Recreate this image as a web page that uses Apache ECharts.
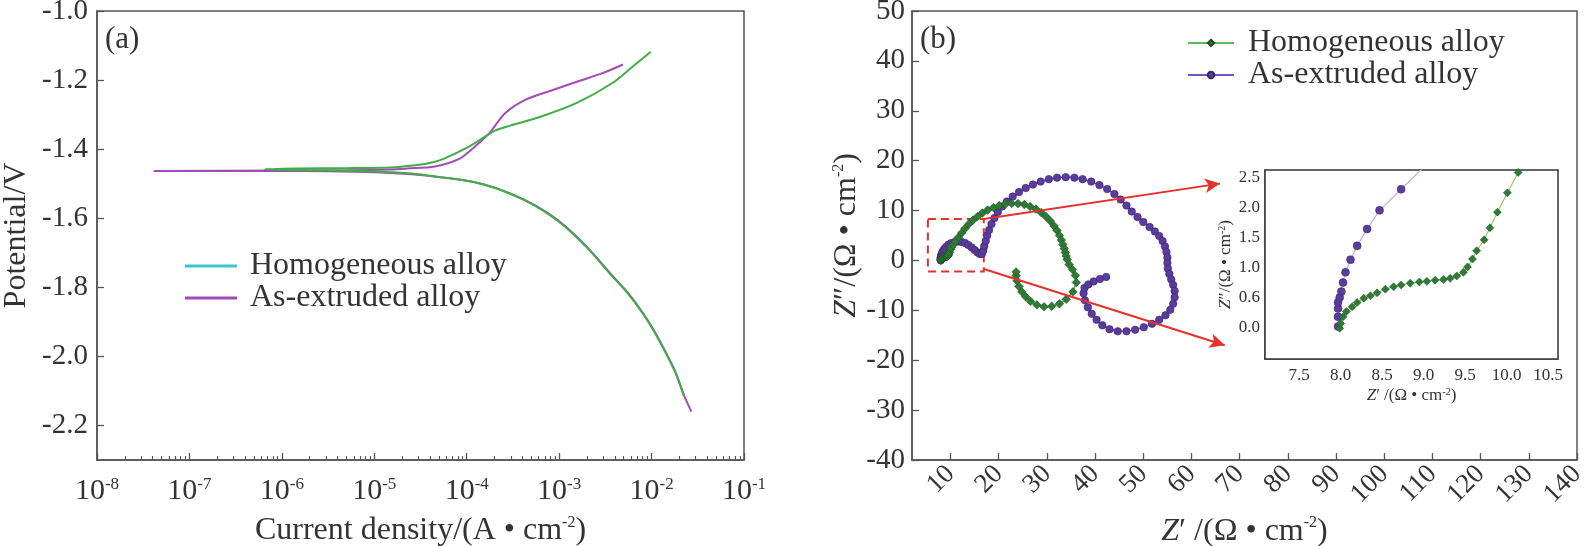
<!DOCTYPE html>
<html>
<head>
<meta charset="utf-8">
<script src="https://cdn.jsdelivr.net/npm/echarts@6/dist/echarts.min.js"></script>
<style>
  html, body { margin: 0; padding: 0; background: #fff; }
  #chart { width: 1586px; height: 546px; }
</style>
</head>
<body>
<div id="chart"></div>
<script>
// ---- data ----
// (a) polarization curves: [current density A/cm2, potential V]
var tafelHomo = [
  [2.24e-2, -2.115], [1.8e-2, -2.045], [1.35e-2, -1.978], [1.05e-2, -1.925], [8.1e-3, -1.877],
  [5.5e-3, -1.817], [3.7e-3, -1.766], [2.0e-3, -1.685], [1.05e-3, -1.615], [5.5e-4, -1.564],
  [2.95e-4, -1.529], [1.55e-4, -1.503], [8.3e-5, -1.488], [4.0e-5, -1.477], [2.3e-5, -1.470],
  [1.0e-5, -1.465], [3.5e-6, -1.462], [1.5e-6, -1.460], [6.5e-7, -1.458],
  [1.5e-6, -1.456], [5.0e-6, -1.455], [1.5e-5, -1.453], [2.3e-5, -1.449], [4.0e-5, -1.440],
  [5.6e-5, -1.428], [1.07e-4, -1.392], [2.0e-4, -1.347], [2.95e-4, -1.332], [6.3e-4, -1.306],
  [1.55e-3, -1.266], [3.7e-3, -1.210], [6.3e-3, -1.160], [9.8e-3, -1.118]
];
var tafelExtr = [
  [2.7e-2, -2.160], [2.24e-2, -2.112], [1.8e-2, -2.043], [1.35e-2, -1.976], [1.05e-2, -1.923],
  [8.1e-3, -1.875], [5.5e-3, -1.815], [3.7e-3, -1.764], [2.0e-3, -1.683], [1.05e-3, -1.613],
  [5.5e-4, -1.563], [2.95e-4, -1.528], [1.55e-4, -1.502], [8.3e-5, -1.488], [4.0e-5, -1.478],
  [2.3e-5, -1.472], [1.0e-5, -1.467], [3.0e-6, -1.464], [1.0e-6, -1.463], [4.1e-8, -1.463],
  [1.0e-6, -1.462], [5.0e-6, -1.461], [1.5e-5, -1.459], [2.3e-5, -1.456], [4.5e-5, -1.450],
  [8.3e-5, -1.428], [1.23e-4, -1.392], [1.78e-4, -1.352], [2.6e-4, -1.296], [4.4e-4, -1.256],
  [8.1e-4, -1.231], [1.55e-3, -1.205], [2.95e-3, -1.180], [4.9e-3, -1.155]
];

// (b) Nyquist plots: [Z', Z'']
var nyqHomo = [
  [8.0, 0.0], [8.03, 0.18], [8.14, 0.35], [8.28, 0.49], [8.44, 0.58], [8.64, 0.68], [8.84, 0.74],
  [9.04, 0.77], [9.24, 0.80], [9.40, 0.86], [9.53, 1.01], [9.64, 1.28], [9.80, 1.66], [10.01, 2.24],
  [10.14, 2.58], [10.5, 3.1], [11.0, 3.8], [11.6, 4.6], [12.3, 5.5], [13.0, 6.4], [13.8, 7.3],
  [14.7, 8.1], [15.6, 8.8], [16.6, 9.5], [17.7, 10.1], [18.9, 10.6], [20.1, 11.0], [21.4, 11.3],
  [22.7, 11.4], [24.0, 11.4], [25.3, 11.2], [26.5, 10.8], [27.7, 10.3], [28.8, 9.6], [29.8, 8.8],
  [30.7, 7.9], [31.5, 6.9], [32.1, 6.0], [32.6, 5.0], [33.0, 4.1], [33.3, 3.2], [33.6, 2.4],
  [33.8, 1.6], [34.0, 0.9], [34.2, 0.2], [34.6, -0.8], [35.3, -1.8], [35.9, -3.0], [36.1, -4.4],
  [35.4, -6.3], [34.0, -7.8], [32.6, -8.7], [31.0, -9.2], [29.4, -9.3], [27.9, -8.9], [26.6, -8.2],
  [25.6, -7.3], [24.8, -6.3], [24.2, -5.2], [23.8, -4.1], [23.6, -3.0], [23.6, -2.3]
];
var nyqExtr = [
  [7.97, 0.02], [7.97, 0.18], [7.97, 0.32], [7.97, 0.42], [7.99, 0.50], [8.01, 0.60], [8.03, 0.75],
  [8.06, 0.92], [8.12, 1.13], [8.20, 1.36], [8.32, 1.64], [8.47, 1.95], [8.73, 2.30], [9.1, 2.75],
  [9.6, 3.2], [10.2, 3.5], [10.9, 3.7], [11.6, 3.8], [12.3, 3.7], [13.0, 3.5], [13.7, 3.1],
  [14.4, 2.6], [15.0, 2.1], [15.6, 1.6], [16.1, 1.3], [16.5, 1.3], [16.8, 2.0], [17.0, 2.9],
  [17.3, 3.9], [17.6, 5.0], [18.0, 6.1], [18.5, 7.3], [19.1, 8.5], [19.8, 9.7], [20.7, 10.8],
  [21.7, 11.8], [22.9, 12.8], [24.2, 13.7], [25.6, 14.5], [27.1, 15.2], [28.7, 15.8], [30.4, 16.3],
  [32.1, 16.6], [33.9, 16.7], [35.7, 16.6], [37.4, 16.3], [39.2, 15.8], [40.9, 15.1], [42.5, 14.3],
  [44.0, 13.3], [45.3, 12.2], [46.5, 11.0], [47.6, 9.8], [48.8, 8.7], [50.0, 7.7], [51.3, 6.7],
  [52.4, 5.8], [53.3, 4.9], [54.0, 3.9], [54.5, 2.8], [54.8, 1.7], [55.0, 0.6], [55.0, -0.5],
  [55.1, -1.6], [55.4, -2.7], [55.8, -3.8], [56.2, -4.9], [56.5, -6.1], [56.5, -7.4], [56.2, -8.7],
  [55.6, -9.9], [54.6, -11.0], [53.3, -11.9], [51.8, -12.7], [50.1, -13.4], [48.3, -13.9],
  [46.5, -14.2], [44.7, -14.2], [43.0, -13.8], [41.5, -13.0], [40.3, -11.9], [39.3, -10.7],
  [38.5, -9.4], [37.9, -8.0], [37.6, -6.6], [37.8, -5.5], [38.6, -4.8], [39.7, -4.2], [41.0, -3.7],
  [42.3, -3.3]
];

// inset (zoom of high-frequency part)
var insetHomo = [
  [7.99, -0.01], [8.0, 0.07], [8.03, 0.18], [8.07, 0.27], [8.14, 0.35], [8.20, 0.42], [8.28, 0.49],
  [8.36, 0.53], [8.44, 0.58], [8.54, 0.64], [8.64, 0.68], [8.73, 0.71], [8.84, 0.74], [8.95, 0.76],
  [9.04, 0.77], [9.14, 0.79], [9.24, 0.80], [9.32, 0.82], [9.40, 0.86], [9.48, 0.92], [9.53, 1.01],
  [9.59, 1.14], [9.64, 1.28], [9.73, 1.46], [9.80, 1.66], [9.89, 1.92], [10.01, 2.24], [10.14, 2.58],
  [10.25, 2.85]
];
var insetExtr = [
  [7.97, 0.02], [7.97, 0.18], [7.97, 0.32], [7.97, 0.42], [7.99, 0.50], [8.01, 0.60], [8.03, 0.75],
  [8.06, 0.92], [8.12, 1.13], [8.20, 1.36], [8.32, 1.64], [8.47, 1.95], [8.73, 2.30], [9.1, 2.80]
];

// tick labels
var tafelXTicks = [1e-8, 1e-7, 1e-6, 1e-5, 1e-4, 1e-3, 1e-2, 1e-1];
var tafelYTicks = [-2.2, -2.0, -1.8, -1.6, -1.4, -1.2, -1.0];
var nyqXTicks = [10, 20, 30, 40, 50, 60, 70, 80, 90, 100, 110, 120, 130, 140];
var insetXTicks = [7.5, 8.0, 8.5, 9.0, 9.5, 10.0, 10.5];
var insetYTicks = [0, 0.5, 1.0, 1.5, 2.0, 2.5];
var insetYLabels = ['0.0', '0.6', '1.0', '1.5', '2.0', '2.5'];

// dashed zoom box [x1, y1, x2, y2] and arrows in (b) data units
var zoomBox = [5.3, -2.2, 16.9, 8.3];
var zoomArrows = [
  [[16.9, 8.3], [65.9, 15.4]],
  [[16.9, -1.7], [66.9, -17.0]]
];

// ---- styling ----
var FONT = '"Liberation Serif", "Times New Roman", serif';
var INK = '#333';
var AXIS = '#555';
var GREEN_A = '#3fae45', PURPLE_A = '#a34bb8', CYAN = '#3cc4d4';
var GREEN_M = '#2f7b36', GREEN_L = '#5cb85c', PURPLE_M = '#5a3c9c', PURPLE_L = '#7a52bf';
var RED = '#e5312c';

// minor ticks of the log axis (2..9 in each decade)
var minorTicks = [];
for (var e = -8; e < -1; e++) {
  for (var k = 2; k < 10; k++) minorTicks.push(k * Math.pow(10, e));
}

var supRich = {
  it: { fontStyle: 'italic', fontFamily: FONT, fontSize: 32, color: INK },
  sup: { fontSize: 16, fontFamily: FONT, color: INK, verticalAlign: 'top', lineHeight: 16 }
};
var smallRich = {
  it: { fontStyle: 'italic', fontFamily: FONT, fontSize: 17, color: INK },
  sup: { fontSize: 10, fontFamily: FONT, color: INK, verticalAlign: 'top', lineHeight: 10 }
};

function axisBase(grid) {
  return {
    gridIndex: grid,
    axisLine: { show: true, onZero: false, lineStyle: { color: AXIS, width: 1.5 } },
    axisTick: { show: true, inside: true, length: 7, lineStyle: { color: AXIS, width: 1.3 } },
    splitLine: { show: false },
    axisLabel: { fontFamily: FONT, color: INK, fontSize: 28 },
    nameTextStyle: { fontFamily: FONT, color: INK, fontSize: 32 }
  };
}

function merge(a, b) {
  for (var key in b) a[key] = b[key];
  return a;
}

var chart = echarts.init(document.getElementById('chart'), null, { renderer: 'canvas' });

var option = {
  backgroundColor: '#fff',
  animation: false,
  title: [
    { text: '(a)', left: 105, top: 24, padding: 0,
      textStyle: { fontFamily: FONT, fontSize: 31, fontWeight: 'normal', color: INK } },
    { text: '(b)', left: 920, top: 24, padding: 0,
      textStyle: { fontFamily: FONT, fontSize: 31, fontWeight: 'normal', color: INK } }
  ],
  legend: [
    {
      data: [
        { name: 'Homogeneous alloy', itemStyle: { color: CYAN, borderWidth: 0 } },
        { name: 'As-extruded alloy', itemStyle: { color: PURPLE_A, borderWidth: 0 } }
      ],
      icon: 'rect', itemWidth: 52, itemHeight: 3, itemGap: 0,
      orient: 'vertical', left: 185, top: 250, padding: 0,
      textStyle: { fontFamily: FONT, fontSize: 32, color: INK, padding: [0, 0, 0, 8] }
    },
    {
      data: ['Homogeneous alloy', 'As-extruded alloy'],
      itemWidth: 46, itemHeight: 8, itemGap: 0,
      orient: 'vertical', left: 1187, top: 27, padding: 0,
      textStyle: { fontFamily: FONT, fontSize: 32, color: INK, padding: [0, 0, 0, 9] }
    }
  ],
  grid: [
    { left: 97, top: 11, width: 647, height: 449, show: true, borderColor: AXIS, borderWidth: 1.5,
      outerBoundsMode: 'none' },
    { left: 912, top: 11, width: 665, height: 449, show: true, borderColor: AXIS, borderWidth: 1.5,
      outerBoundsMode: 'none' },
    { left: 1265, top: 170, width: 293, height: 189, show: true, borderColor: '#333',
      borderWidth: 1.5, backgroundColor: '#fff', z: 10, outerBoundsMode: 'none' }
  ],
  xAxis: [
    merge(axisBase(0), {
      type: 'log', logBase: 10, min: 1e-8, max: 1e-1, position: 'bottom',
      name: 'Current density/(A • cm{sup|-2})', nameLocation: 'middle', nameGap: 55,
      nameTextStyle: { fontFamily: FONT, color: INK, fontSize: 32, rich: supRich },
      axisTick: { show: true, inside: true, length: 7, customValues: tafelXTicks,
        lineStyle: { color: AXIS, width: 1.3 } },
      axisLabel: {
        customValues: tafelXTicks, margin: 16,
        formatter: function (v) { return '{b|10}{s|' + Math.round(Math.log10(v)) + '}'; },
        rich: {
          b: { fontFamily: FONT, color: INK, fontSize: 30, lineHeight: 30 },
          s: { fontFamily: FONT, color: INK, fontSize: 17, lineHeight: 17, verticalAlign: 'top' }
        }
      }
    }),
    merge(axisBase(0), {
      type: 'log', logBase: 10, min: 1e-8, max: 1e-1, position: 'bottom',
      axisLine: { show: false },
      axisLabel: { show: false },
      axisTick: { show: true, inside: true, length: 4, customValues: minorTicks,
        lineStyle: { color: AXIS, width: 1.1 } }
    }),
    merge(axisBase(1), {
      type: 'value', min: 2, max: 140,
      name: '{it|Z}′ /(Ω • cm{sup|-2})', nameLocation: 'middle', nameGap: 51,
      nameTextStyle: { fontFamily: FONT, color: INK, fontSize: 32, rich: supRich },
      axisTick: { show: true, inside: true, length: 7, customValues: nyqXTicks,
        lineStyle: { color: AXIS, width: 1.3 } },
      axisLabel: { customValues: nyqXTicks, rotate: 45, margin: 10,
        fontFamily: FONT, color: INK, fontSize: 27 }
    }),
    merge(axisBase(2), {
      type: 'value', min: 7.09, max: 10.62,
      name: '{it|Z}′ /(Ω • cm{sup|-2})', nameLocation: 'middle', nameGap: 28,
      nameTextStyle: { fontFamily: FONT, color: INK, fontSize: 17, rich: smallRich },
      axisTick: { show: true, inside: true, length: 5, customValues: insetXTicks,
        lineStyle: { color: '#333', width: 1 } },
      axisLabel: { customValues: insetXTicks, margin: 8, fontFamily: FONT, color: INK, fontSize: 17,
        formatter: function (v) { return v.toFixed(1); } }
    })
  ],
  yAxis: [
    merge(axisBase(0), {
      type: 'value', min: -2.3, max: -1.0,
      name: 'Potential/V', nameLocation: 'middle', nameGap: 64,
      axisTick: { show: true, inside: true, length: 7, customValues: tafelYTicks,
        lineStyle: { color: AXIS, width: 1.3 } },
      axisLabel: { customValues: tafelYTicks, margin: 9, fontFamily: FONT, color: INK, fontSize: 29,
        formatter: function (v) { return v.toFixed(1); } }
    }),
    merge(axisBase(1), {
      type: 'value', min: -40, max: 50, interval: 10,
      name: '{it|Z}″/(Ω • cm{sup|-2})', nameLocation: 'middle', nameGap: 48,
      nameTextStyle: { fontFamily: FONT, color: INK, fontSize: 32, rich: supRich },
      axisTick: { show: true, inside: true, length: 7, lineStyle: { color: AXIS, width: 1.3 } },
      axisLabel: { margin: 7, fontFamily: FONT, color: INK, fontSize: 29 }
    }),
    merge(axisBase(2), {
      type: 'value', min: -0.52, max: 2.62,
      name: '{it|Z}″/(Ω • cm{sup|-2})', nameLocation: 'middle', nameGap: 31,
      nameTextStyle: { fontFamily: FONT, color: INK, fontSize: 17, rich: smallRich },
      axisTick: { show: true, inside: true, length: 5, customValues: insetYTicks,
        lineStyle: { color: '#333', width: 1 } },
      axisLabel: { customValues: insetYTicks, margin: 5, fontFamily: FONT, color: INK, fontSize: 17,
        formatter: function (v) { return insetYLabels[Math.round(v / 0.5)]; } }
    })
  ],
  series: [
    // (b) main Nyquist - listed first so legend (b) takes its symbols
    {
      name: 'As-extruded alloy', type: 'line', xAxisIndex: 2, yAxisIndex: 1,
      data: nyqExtr, symbol: 'circle', symbolSize: 7.5, showAllSymbol: true,
      itemStyle: { color: PURPLE_M, borderColor: '#3d2470', borderWidth: 0.6 },
      lineStyle: { color: PURPLE_L, width: 1.6 },
      markArea: {
        silent: true,
        itemStyle: { color: 'rgba(0,0,0,0)', borderColor: RED, borderWidth: 2, borderType: [8, 5] },
        data: [[{ coord: [zoomBox[0], zoomBox[3]] }, { coord: [zoomBox[2], zoomBox[1]] }]]
      },
      markLine: {
        silent: true, symbol: ['none', 'arrow'], symbolSize: [11, 15],
        label: { show: false },
        lineStyle: { color: RED, width: 2, type: 'solid' },
        data: zoomArrows.map(function (a) { return [{ coord: a[0] }, { coord: a[1] }]; })
      }
    },
    {
      name: 'Homogeneous alloy', type: 'line', xAxisIndex: 2, yAxisIndex: 1,
      data: nyqHomo, symbol: 'diamond', symbolSize: 8.5, showAllSymbol: true,
      itemStyle: { color: GREEN_M, borderColor: '#1d4f22', borderWidth: 0.6 },
      lineStyle: { color: GREEN_L, width: 1.6 }
    },
    // (a) polarization curves
    {
      name: 'As-extruded alloy', type: 'line', xAxisIndex: 0, yAxisIndex: 0,
      data: tafelExtr, symbol: 'none', smooth: 0.3,
      lineStyle: { color: PURPLE_A, width: 2 }
    },
    {
      name: 'Homogeneous alloy', type: 'line', xAxisIndex: 0, yAxisIndex: 0,
      data: tafelHomo, symbol: 'none', smooth: 0.3,
      lineStyle: { color: GREEN_A, width: 2 }
    },
    // inset
    {
      name: 'As-extruded inset', type: 'line', xAxisIndex: 3, yAxisIndex: 2, z: 12,
      data: insetExtr, symbol: 'circle', symbolSize: 8, showAllSymbol: true, clip: true,
      itemStyle: { color: PURPLE_M, borderColor: '#3d2470', borderWidth: 0.5 },
      lineStyle: { color: '#d9a3dc', width: 1.2 }
    },
    {
      name: 'Homogeneous inset', type: 'line', xAxisIndex: 3, yAxisIndex: 2, z: 12,
      data: insetHomo, symbol: 'diamond', symbolSize: 8, showAllSymbol: true, clip: true,
      itemStyle: { color: GREEN_M, borderColor: '#1d4f22', borderWidth: 0.5 },
      lineStyle: { color: '#9ccc65', width: 1.2 }
    }
  ]
};

chart.setOption(option);
</script>
</body>
</html>
